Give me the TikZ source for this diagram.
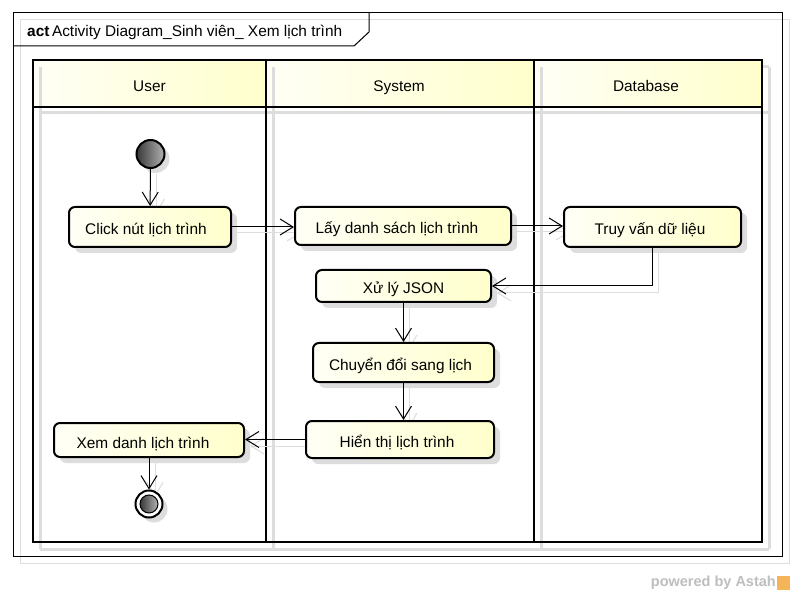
\documentclass[tikz,border=0pt]{standalone}
\usepackage{fontspec}
\setmainfont{Liberation Sans}
\usetikzlibrary{arrows.meta,shadows}

\definecolor{shadowgray}{RGB}{221,221,221}
\definecolor{creamy}{RGB}{255,255,246}
\definecolor{lightyellow}{RGB}{255,255,204}
\definecolor{markgray}{RGB}{190,190,190}
\definecolor{astahorange}{RGB}{245,180,90}

\begin{document}
\begin{tikzpicture}[x=1pt,y=-1pt,
  every node/.style={font=\fontsize{15.4}{17}\selectfont},
  action/.style={draw, line width=2pt, rounded corners=6pt,
    left color=creamy, right color=lightyellow, inner sep=0pt,
    text height=16pt, text depth=0pt,
    general shadow={shadow xshift=6pt, shadow yshift=-6pt, fill=shadowgray}},
  lanename/.style={text height=14pt, text depth=2pt},
  startnode/.style={circle, draw, line width=2pt, minimum size=28pt, inner sep=0pt,
    left color=black!78, right color=black!30,
    general shadow={shadow xshift=5pt, shadow yshift=-5pt, fill=shadowgray}},
  endring/.style={circle, draw, line width=2pt, minimum size=27pt, inner sep=0pt, fill=white,
    general shadow={shadow xshift=5pt, shadow yshift=-5pt, fill=shadowgray}},
  enddot/.style={circle, draw, line width=1pt, minimum size=18pt, inner sep=0pt,
    left color=black!78, right color=black!30},
  flow/.style={-{Straight Barb[length=13pt,width=16pt]}, line width=1pt},
  flowshadow/.style={flow, draw=shadowgray, transform canvas={xshift=6pt,yshift=-6pt}},
  lanehead/.style={left color=creamy, right color=lightyellow, draw=none},
  laneshadow/.style={draw=shadowgray, line width=3pt},
  lane/.style={draw=black, line width=2.5pt},
]
% page
\useasboundingbox (0,0) rectangle (796,596);
\fill[white] (0,0) rectangle (796,596);

% diagram frame with its shadow
\draw[shadowgray, line width=1pt] (20,20) rectangle (789,563);
\draw[black, line width=1pt] (13,13) rectangle (782,556);

% swimlane headers
\shade[lanehead] (33,60) rectangle (266,107);
\shade[lanehead] (266,60) rectangle (534,107);
\shade[lanehead] (534,60) rectangle (762,107);

% swimlane shadow
\foreach \xx in {40,273,541,769}
  \draw[laneshadow] (\xx,67) -- (\xx,549);
\draw[laneshadow] (40,113) -- (769,113);
\draw[laneshadow] (40,549) -- (769,549);
\draw[laneshadow] (762,67) -- (769,67);

% swimlane outline
\draw[lane] (33,60) rectangle (762,542);
\draw[lane] (33,107) -- (762,107);
\draw[lane] (266,60) -- (266,542);
\draw[lane] (534,60) -- (534,542);

% lane names
\node[lanename] (hUser) at (149.5,85.5) {User};
\node[lanename] (hSystem) at (399,85.5) {System};
\node[lanename] (hDatabase) at (646,85.5) {Database};

% title tab
\draw[black, line width=1pt] (13,46) -- (354,46) -- (369,32) -- (369,13);
\node[anchor=base west, inner sep=0pt] (title) at (27,37)
  {\textbf{act}\,Activity Diagram\_Sinh viên\_ Xem lịch trình};

% edge shadows
\coordinate (initS) at (150.5,168);
\coordinate (finN) at (149,490.5);
\draw[flowshadow] (initS) -- (150.5,207);
\draw[flowshadow] (231,227) -- (295,227);
\draw[flowshadow] (511,226) -- (564,226);
\draw[flowshadow] (652,247) |- (491,287);
\draw[flowshadow] (403,302) -- (403,343);
\draw[flowshadow] (403,382) -- (403,421);
\draw[flowshadow] (306,440) -- (244,440);
\draw[flowshadow] (149,457) -- (finN);

% nodes
\node[startnode] (init) at (150.5,154) {};
\node[action, minimum width=162pt, minimum height=40pt] (click) at (150,227) {\hspace*{-8pt}Click nút lịch trình};
\node[action, minimum width=216pt, minimum height=38pt] (lay) at (403,226) {\hspace*{-12pt}Lấy danh sách lịch trình};
\node[action, minimum width=177pt, minimum height=40pt] (truy) at (652.5,227) {\hspace*{-5pt}Truy vấn dữ liệu};
\node[action, minimum width=175pt, minimum height=32pt] (xuly) at (403.5,286) {Xử lý JSON};
\node[action, minimum width=181pt, minimum height=39pt] (chuyen) at (403.5,362.5) {\hspace*{-6pt}Chuyển đổi sang lịch};
\node[action, minimum width=188pt, minimum height=37pt] (hien) at (400,439.5) {\hspace*{-6pt}Hiển thị lịch trình};
\node[action, minimum width=190pt, minimum height=34pt] (xem) at (149,440) {\hspace*{-12pt}Xem danh lịch trình};
\node[endring] (final) at (149,504) {};
\node[enddot] (finalDot) at (final.center) {};

% control flows
\draw[flow] (init) -- (click);
\draw[flow] (click.east) -- (click.east -| lay.west);
\draw[flow] (lay.east) -- (lay.east -| truy.west);
\draw[flow] (truy.south) |- (xuly.east);
\draw[flow] (xuly.south -| chuyen.north) -- (chuyen.north);
\draw[flow] (chuyen.south) -- (chuyen.south |- hien.north);
\draw[flow] (hien.west) -- (hien.west -| xem.east);
\draw[flow] (xem.south) -- (final.north);

% footer mark
\node[anchor=east, inner sep=0pt, text=markgray, font=\fontsize{14.5}{16}\selectfont\bfseries] (mark) at (776,583) {powered by Astah};
\fill[astahorange] (777,576) rectangle (790,590);
\end{tikzpicture}
\end{document}
